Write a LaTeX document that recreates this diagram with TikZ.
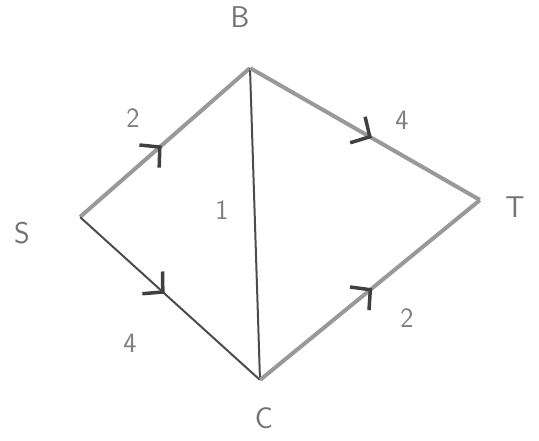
\documentclass[tikz,border=0pt]{standalone}
\usetikzlibrary{decorations.markings,arrows.meta}
\begin{document}
\begin{tikzpicture}[x=1pt,y=-1pt,
  vtx/.style={inner sep=0pt,minimum size=0pt},
  lbl/.style={font=\sffamily\fontsize{30}{32}\selectfont,text=black!55},
  wlbl/.style={font=\sffamily\fontsize{28}{30}\selectfont,text=black!50},
  pencil/.style={draw=black!40,line width=4pt},
  dark/.style={draw=black!70,line width=2pt},
  midarrow/.style={postaction={decorate},decoration={markings,
     mark=at position #1 with {\arrow[black!75,line width=3.5pt]{Straight Barb[length=14pt,width=30pt]}}}}
]
\useasboundingbox (0,0) rectangle (539,441);
\node[vtx] (s) at (80,217) {};
\node[vtx] (b) at (250,68) {};
\node[vtx] (c) at (260,380) {};
\node[vtx] (t) at (480,200) {};
\node[lbl] (ls) at (22,233) {S};
\node[lbl] (lb) at (240,17) {B};
\node[lbl] (lc) at (264,418) {C};
\node[lbl] (lt) at (515,207) {T};
\draw[pencil,midarrow=0.48] (s) -- (b);
\draw[dark,midarrow=0.47] (s) -- (c);
\draw[dark] (b) -- (c);
\draw[pencil,midarrow=0.53] (b) -- (t);
\draw[pencil,midarrow=0.51] (c) -- (t);
\node[wlbl] (w1) at (133,118) {2};
\node[wlbl] (w2) at (130,343) {4};
\node[wlbl] (w3) at (222,210) {1};
\node[wlbl] (w4) at (402,120) {4};
\node[wlbl] (w5) at (407,318) {2};
\end{tikzpicture}
\end{document}
